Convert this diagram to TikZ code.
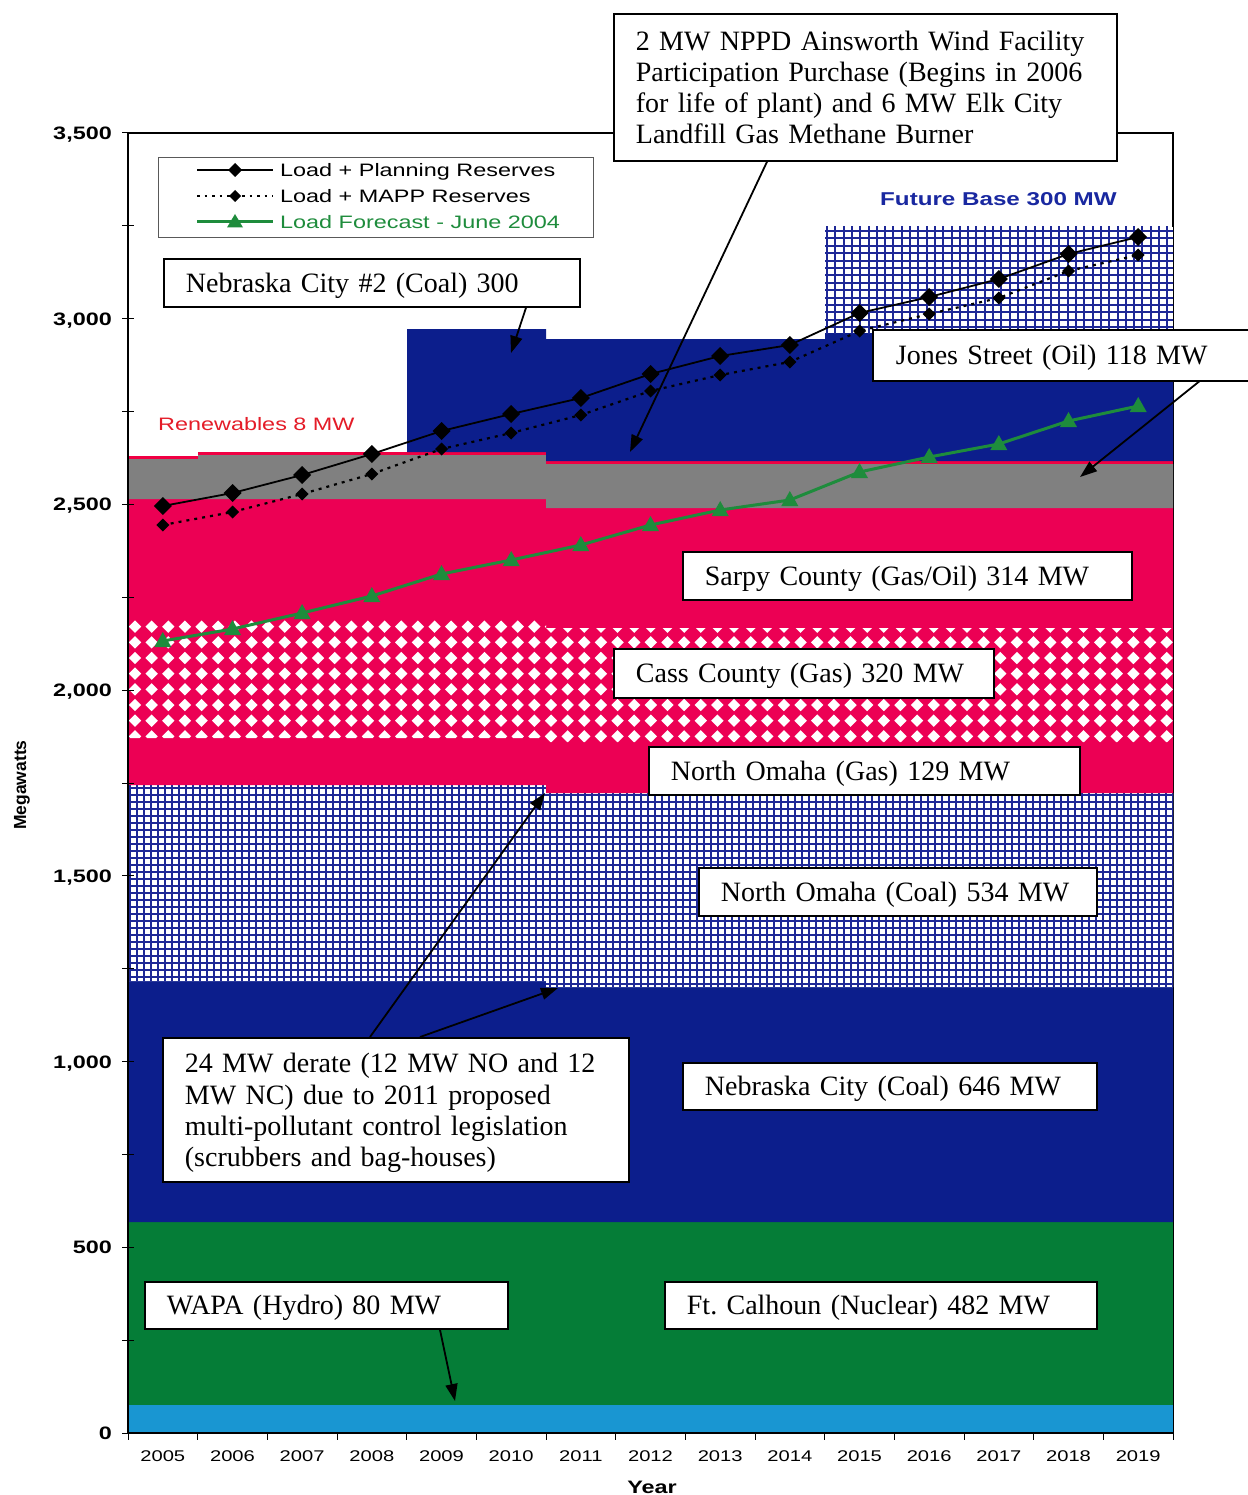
\documentclass[tikz,border=0pt]{standalone}
\usepackage{fontspec}
\setmainfont{Liberation Serif}
\newfontfamily\chartfont[FakeStretch=1.3]{Liberation Sans}
\newfontfamily\axisfont{Liberation Sans}
\usetikzlibrary{arrows.meta}
\definecolor{navy}{RGB}{12,30,140}
\definecolor{hotred}{RGB}{236,0,84}
\definecolor{grayfill}{RGB}{128,128,128}
\definecolor{nucgreen}{RGB}{5,125,55}
\definecolor{hydroblue}{RGB}{25,150,210}
\definecolor{hatchblue}{RGB}{30,40,150}
\definecolor{loadgreen}{RGB}{30,140,60}
\definecolor{renred}{RGB}{228,28,40}
\definecolor{fbblue}{RGB}{25,40,160}
\begin{document}
\begin{tikzpicture}[x=1pt,y=-1pt,
  box/.style={draw=black, line width=1.8pt, fill=white, anchor=north west, inner xsep=22pt, inner ysep=0pt, align=left, font=\fontsize{28}{31.3}\selectfont},
  onebox/.style={box, text height=20pt, text depth=1pt},
  arr/.style={line width=1.8pt, -{Triangle[length=17pt,width=12pt]}},
  hatchline/.style={draw=hatchblue, line width=2pt},
  fbline/.style={draw=hatchblue, line width=2pt},
  chart/.style={font=\chartfont\fontsize{18}{20}\selectfont, inner sep=0pt},
  chartbold/.style={font=\chartfont\bfseries\fontsize{18}{20}\selectfont, inner sep=0pt},
  yearlab/.style={font=\chartfont\fontsize{15.5}{18}\selectfont, inner sep=0pt, anchor=base},
  sline/.style={line width=1.8pt, black},
  dline/.style={line width=2.2pt, black, dash pattern=on 3pt off 5pt},
  gline/.style={line width=3pt, loadgreen}
]
\useasboundingbox (0,0) rectangle (1247,1495);
\fill[white] (0,0) rectangle (1247,1495);

% plot frame
\draw[line width=1.2pt] (128,133) rectangle (1173,1433);

% ---- stacked capacity areas ----
\fill[hydroblue] (128,1405) rectangle (1173,1433);
\fill[nucgreen] (128,1222) rectangle (1173,1405);
\fill[navy] (128,981) -- (546,981) -- (546,987) -- (1173,987) -- (1173,1222) -- (128,1222) -- cycle;
% North Omaha coal (grid hatch)
\begin{scope}
\clip (128,785) -- (546,785) -- (546,793) -- (1173,793) -- (1173,987) -- (546,987) -- (546,981) -- (128,981) -- cycle;
\fill[white] (120,780) rectangle (1180,992);
\foreach \x in {130,137,...,1178} \draw[hatchline] (\x,780) -- (\x,992);
\foreach \y in {788,795,...,992} \draw[hatchline] (125,\y) -- (1178,\y);
\end{scope}
% gas units (red)
\fill[hotred] (128,499) -- (546,499) -- (546,508) -- (1173,508) -- (1173,793) -- (546,793) -- (546,785) -- (128,785) -- cycle;
% Cass County diamonds
\begin{scope}
\clip (128,620) -- (546,620) -- (546,628) -- (1173,628) -- (1173,742) -- (546,742) -- (546,738) -- (128,738) -- cycle;
\foreach \i in {0,...,63} \foreach \j in {0,...,8}
  {\fill[white] ({135+16.64*\i},{611+15.67*\j}) +(0,-6.2) -- +(6.2,0) -- +(0,6.2) -- +(-6.2,0) -- cycle;}
\end{scope}
% Jones Street (gray)
\fill[grayfill] (128,459) -- (198,459) -- (198,455) -- (546,455) -- (546,464) -- (1173,464) -- (1173,508) -- (546,508) -- (546,499) -- (128,499) -- cycle;
% renewables (thin red)
\fill[hotred!80!red] (128,456) rectangle (198,459);
\fill[hotred!80!red] (198,452) rectangle (546,455);
\fill[hotred!80!red] (546,461) rectangle (1173,464);
% Nebraska City #2
\fill[navy] (407,329) -- (546,329) -- (546,339) -- (825,339) -- (825,333) -- (1173,333) -- (1173,461) -- (546,461) -- (546,452) -- (407,452) -- cycle;
% Future base (grid hatch)
\begin{scope}
\clip (825,227) rectangle (1173,333);
\fill[white] (825,227) rectangle (1173,333);
\foreach \x in {827,835.3,...,1176} \draw[fbline] (\x,225) -- (\x,335);
\foreach \y in {231,238.4,...,335} \draw[fbline] (823,\y) -- (1175,\y);
\end{scope}

% ---- axes ----
\draw[line width=1.5pt] (128,133) -- (128,1433) -- (1173,1433);
\foreach \m in {0,250,...,3500} \draw[line width=1pt] (122,{1433-0.371428*\m}) -- (134,{1433-0.371428*\m});
\foreach \i in {0,...,15} \draw[line width=1pt] ({128+69.67*\i},1433) -- ++(0,7);
\foreach \m/\lab in {0/0,500/500,1000/{1,000},1500/{1,500},2000/{2,000},2500/{2,500},3000/{3,000},3500/{3,500}}
  \node[chartbold, anchor=base east] (yl\m) at (112,{1439.5-0.371428*\m}) {\lab};
\foreach \yr [count=\i from 0] in {2005,...,2019}
  \node[yearlab] (yr\yr) at ({162.8+69.67*\i},1461.5) {\yr};
\node[chartbold, anchor=base] (xlab) at (652,1493.5) {Year};
\node[font=\axisfont\bfseries\fontsize{17.5}{19}\selectfont, rotate=90, inner sep=0pt] (ylab) at (22,785) {Megawatts};

% ---- load series ----
\draw[sline] plot coordinates {(162.8,506) (232.5,493) (302.1,475) (371.8,454) (441.5,431) (511.2,414) (580.8,398) (650.5,374) (720.2,356) (789.8,345) (859.5,313) (929.2,297) (998.8,279) (1068.5,254) (1138.2,237)};
\foreach \x/\y in {162.8/506,232.5/493,302.1/475,371.8/454,441.5/431,511.2/414,580.8/398,650.5/374,720.2/356,789.8/345,859.5/313,929.2/297,998.8/279,1068.5/254,1138.2/237}
  \fill (\x,\y) +(0,-9) -- +(9,0) -- +(0,9) -- +(-9,0) -- cycle;
\draw[dline] plot coordinates {(162.8,525) (232.5,512) (302.1,494) (371.8,474) (441.5,449) (511.2,433) (580.8,415) (650.5,391) (720.2,375) (789.8,362) (859.5,331) (929.2,314) (998.8,298) (1068.5,271) (1138.2,255)};
\foreach \x/\y in {162.8/525,232.5/512,302.1/494,371.8/474,441.5/449,511.2/433,580.8/415,650.5/391,720.2/375,789.8/362,859.5/331,929.2/314,998.8/298,1068.5/271,1138.2/255}
  \fill (\x,\y) +(0,-6.5) -- +(6.5,0) -- +(0,6.5) -- +(-6.5,0) -- cycle;
\draw[gline] plot coordinates {(162.8,641) (232.5,629) (302.1,613) (371.8,596) (441.5,574) (511.2,560) (580.8,545) (650.5,525) (720.2,510) (789.8,500) (859.5,472) (929.2,457) (998.8,444) (1068.5,421) (1138.2,406)};
\foreach \x/\y in {162.8/641,232.5/629,302.1/613,371.8/596,441.5/574,511.2/560,580.8/545,650.5/525,720.2/510,789.8/500,859.5/472,929.2/457,998.8/444,1068.5/421,1138.2/406}
  \fill[loadgreen] (\x,\y) +(0,-9) -- +(8.5,6) -- +(-8.5,6) -- cycle;

% ---- legend ----
\node[draw=black!65, line width=0.9pt, fill=white, anchor=north west, minimum width=435pt, minimum height=80pt, inner sep=0pt] (legend) at (158,157) {};
\draw[line width=1.6pt] (197,170) -- (273,170);
\fill (235,170) +(0,-7) -- +(7,0) -- +(0,7) -- +(-7,0) -- cycle;
\draw[line width=1.8pt, dash pattern=on 2.5pt off 5pt] (197,196) -- (273,196);
\fill (235,196) +(0,-6) -- +(6,0) -- +(0,6) -- +(-6,0) -- cycle;
\draw[line width=3pt, loadgreen] (197,222) -- (273,222);
\fill[loadgreen] (235,222) +(0,-8) -- +(8,5.5) -- +(-8,5.5) -- cycle;
\node[chart, anchor=base west] (lg1) at (280,176.5) {Load + Planning Reserves};
\node[chart, anchor=base west] (lg2) at (280,202.5) {Load + MAPP Reserves};
\node[chart, anchor=base west, text=loadgreen] (lg3) at (280,228.5) {Load Forecast - June 2004};

% ---- coloured labels ----
\node[chartbold, font=\chartfont\fontsize{18}{20}\selectfont, anchor=base west, text=renred] (renew) at (158,430.5) {Renewables 8 MW};
\node[chartbold, font=\chartfont\bfseries\fontsize{18.6}{20}\selectfont, anchor=base west, text=fbblue] (future) at (880,205.5) {Future Base 300 MW};

% ---- text boxes ----
\node[box, text width=459pt, minimum height=147pt] (mw2) at (613,13) {2 MW NPPD Ainsworth Wind Facility\\Participation Purchase (Begins in 2006\\for life of plant) and 6 MW Elk City\\Landfill Gas Methane Burner};
\node[onebox, text width=372pt, minimum height=48pt] (nc2) at (163,258) {\mbox{Nebraska City \#2 (Coal) 300}};
\node[onebox, draw=none, text width=330pt, minimum height=49pt] (jones) at (873,330) {\mbox{Jones Street (Oil) 118 MW}};
\draw[line width=1.8pt] (jones.north east) -- (jones.north west) -- (jones.south west) -- (jones.south east);
\node[onebox, text width=405pt, minimum height=48pt] (sarpy) at (682,551) {\mbox{Sarpy County (Gas/Oil) 314 MW}};
\node[onebox, text width=336pt, minimum height=49pt] (cass) at (613,648) {\mbox{Cass County (Gas) 320 MW}};
\node[onebox, text width=387pt, minimum height=48pt] (nogas) at (648,746) {\mbox{North Omaha (Gas) 129 MW}};
\node[onebox, text width=354pt, minimum height=48pt] (nocoal) at (698,867) {\mbox{North Omaha (Coal) 534 MW}};
\node[onebox, text width=370pt, minimum height=47pt] (nebcity) at (682,1062) {\mbox{Nebraska City (Coal) 646 MW}};
\node[box, text width=422pt, minimum height=144pt] (derate) at (162,1037) {\rule{0pt}{26pt}24 MW derate (12 MW NO and 12\\MW NC) due to 2011 proposed\\multi-pollutant control legislation\\(scrubbers and bag-houses)};
\node[onebox, text width=319pt, minimum height=47pt] (wapa) at (144,1281) {\mbox{WAPA (Hydro) 80 MW}};
\node[onebox, text width=388pt, minimum height=47pt] (ftc) at (664,1281) {\mbox{Ft.\ Calhoun (Nuclear) 482 MW}};

% ---- arrows ----
\coordinate (t1) at (511,353);
\coordinate (t2) at (630,452);
\coordinate (t3) at (1080,477);
\coordinate (t4) at (545,793);
\coordinate (t5) at (558,988);
\coordinate (t6) at (455,1401);
\draw[arr] ([xshift=363pt]nc2.south west) -- (t1);
\draw[arr] ([xshift=154pt]mw2.south west) -- (t2);
\draw[arr] ([xshift=327pt]jones.south west) -- (t3);
\draw[arr] ([xshift=208pt]derate.north west) -- (t4);
\draw[arr] ([xshift=258pt]derate.north west) -- (t5);
\draw[arr] ([xshift=296pt]wapa.south west) -- (t6);
\end{tikzpicture}
\end{document}
